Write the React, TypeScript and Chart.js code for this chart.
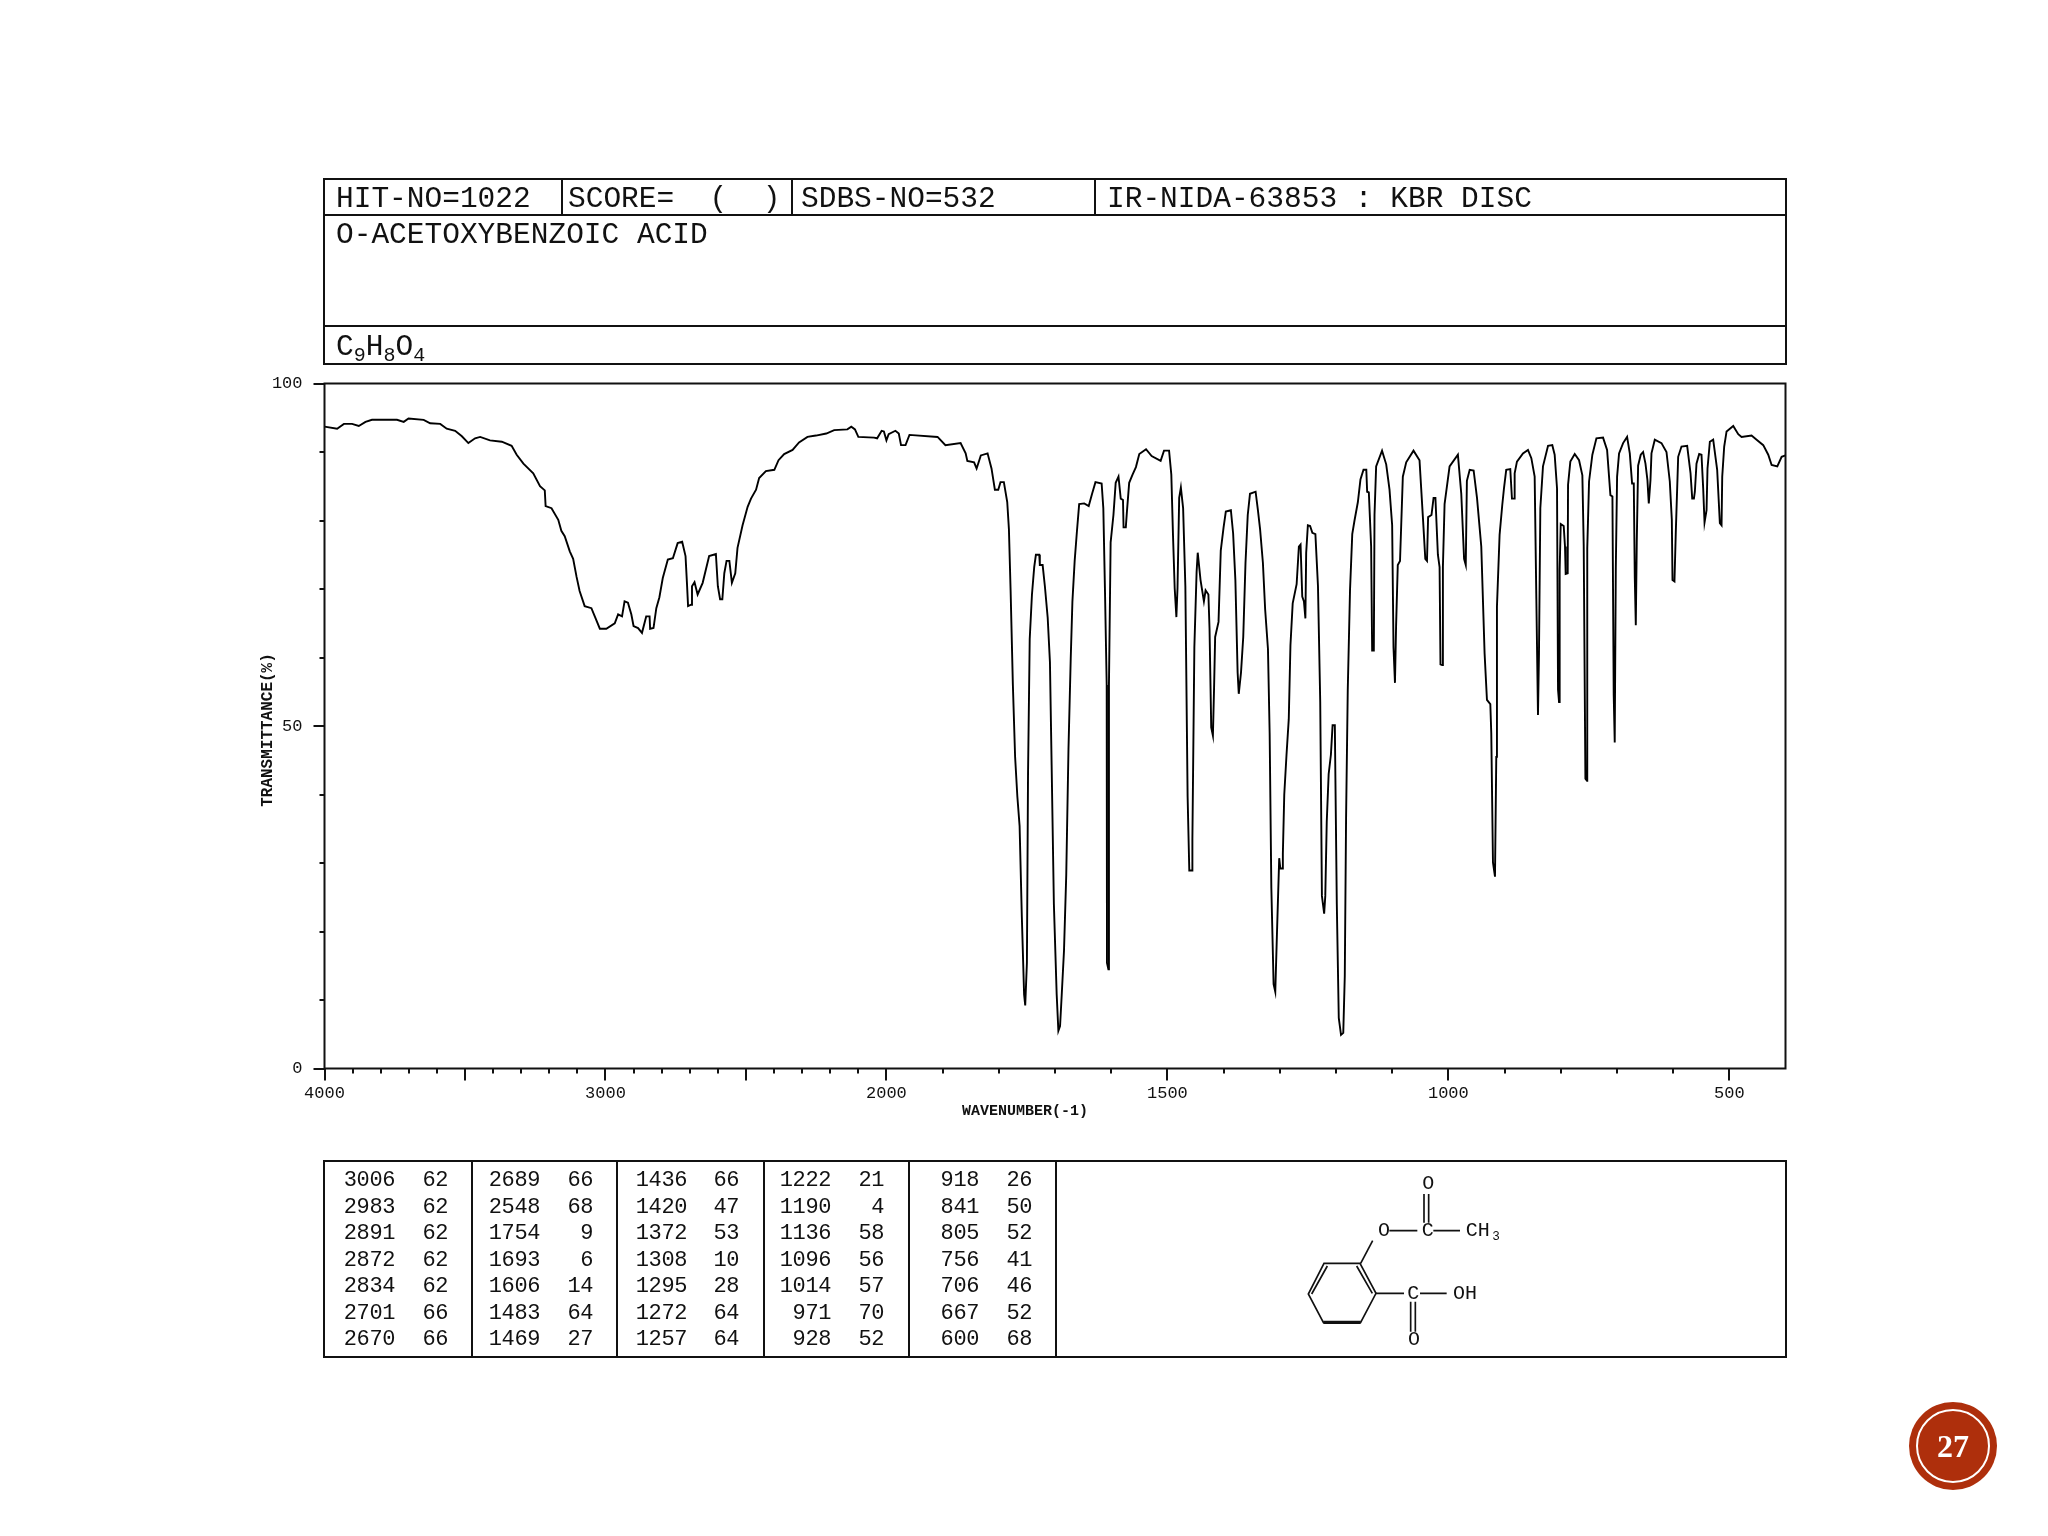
import React, { useEffect, useRef } from "react";
import { Chart, registerables } from "chart.js";

Chart.register(...registerables);

const wavenumbers = [
  4000,3955,3931,3902,3878,3854,3831,3742,3718,3701,3647,3624,3588,3565,3535,3511,3488,3464,3446,3411,3369,3334,3316,3292,3257,3233,3216,3213,3192,3168,3157,3145,3127,3115,3103,3092,3074,3050,3038,3020,2997,2967,2955,2941,2932,2920,2908,2900,2884,2870,2855,2843,2841,2829,2819,2808,2796,2778,2760,2743,2727,2715,2710,2706,2695,2692,2683,2672,2654,2631,2607,2600,2592,2584,2577,2569,2559,2550,2538,2530,2512,2494,2482,2464,2453,2429,2399,2384,2364,2334,2311,2281,2251,2214,2186,2139,2125,2112,2100,2044,2033,2017,2009,2000,
  1996,1984,1978,1974,1966,1959,1909,1895,1868,1859,1856,1844,1839.5,1832,1820,1813,1807,1801,1797,1791,1785,1782,1779,1775,1771,1767,1763,1759,1755,1753,1750,1748,1745,1741,1737,1734,1728,1727,1722,1718,1713,1709,1706,1702,1697,1694,1691,1688,1684,1680,1676,1672,1669,1665,1661,1657,1648,1640,1634,1628,1617,1614,1611,1608,1607.5,1605,1604,1601,1596,1592,1587,1583,1579,1578,1574,1572,1568,1562,1556,1550,1538,1528,1512,1506,1497,1493,1490,1487,1484,1482,1479,1476,1472,1468,1464,1461,1456,1455.5,1452,1448,1446,1441,1435,1432,1427,1425,1422,1419,1417,1415,1409,1405,1400,1396,1387,1383,1379,1375,1373,
  1369,1365,1361,1357,1353,1343,1339,1335,1330,1326,1321,1318,1315,1311,1308,1305,1301,1299,1295,1294.5,1292,1288,1284,1281,1277,1270,1266,1263,1260,1257,1254.4,1253,1250,1246,1242,1236.6,1232,1228,1225,1221,1219,1216.4,1213,1209,1206,1202,1201,1198.5,1195,1191,1187,1184.3,1182,1179,1175,1171,1167,1161,1156.4,1151,1146,1144.5,1141.5,1137.4,1135.6,1132.6,1131.4,1128.5,1118,1110.6,1104.7,1100,1097.6,1095,1093,1090,1086,1081,1075,1062,1051.3,1045.3,1041,1038,1036,1030,1026.3,1023,1018.6,1015.6,1014,1011,1009.7,1006.7,997.8,983,977,972,969,967,962,955,949,941.4,935.5,931.3,925.3,923.6,920.6,917,
  914.7,913.5,908.8,904,901,897,889.8,886.8,882.6,882,877.9,867.2,858.3,852.3,846.4,843.4,840.5,838.7,836.3,831.6,822.6,815,810.8,806.6,804.8,803,801.9,800,794.7,792.4,791.2,787.6,787,782.9,775.1,767.4,761.5,759.1,756.1,753.2,752.8,749.6,743.7,736.5,724.7,717.5,711.6,708,705.7,703.9,702,699.7,696.2,689,681.9,677.1,673,670,668.2,666.4,664.7,662.3,657.6,653.4,649.2,645.7,643.3,640.3,638.5,632.6,620.7,611.8,605.9,602.3,601.1,597.6,595.2,591,585.1,575,569,566,563,561.3,558.4,553.6,549.5,546.5,544.1,540.5,538.8,534.6,528.7,521.6,516.8,513.8,512.6,509.1,504.9,493,484.1,478.2,460.4,451.4,439.6,430.7,424.7,414.6,406.9,400,
];

const transmittance = [
  93.7,93.4,94.1,94.1,93.8,94.4,94.7,94.7,94.4,94.9,94.7,94.2,94.1,93.4,93.1,92.3,91.3,92.0,92.2,91.7,91.5,90.9,89.6,88.3,86.9,85,84.4,82.1,81.8,80.1,78.5,77.7,75.5,74.4,71.8,69.7,67.5,67.2,66.0,64.2,64.2,65,66.3,66,68.2,68,66.3,64.6,64.3,63.6,66,66,64.2,64.3,67.2,68.8,71.6,74.3,74.5,76.7,76.9,74.8,70.9,67.5,67.7,70.4,71,69.2,70.9,74.8,75.1,70.4,68.5,68.5,72.3,74.1,74.1,70.9,72.3,76,79.3,82,83.2,84.5,86.2,87.2,87.4,88.8,89.7,90.3,91.4,92.2,92.4,92.7,93.2,93.3,93.7,93.3,92.2,92.1,92,93.1,93,91.7,
  92.6,93.1,92.7,91,91,92.5,92.2,91,91.3,89.8,88.7,88.5,87.6,89.5,89.8,87.6,84.5,84.5,85.6,85.6,82.7,78.7,69.8,56.1,45.5,39.7,35.4,22.1,10.8,9.2,15.4,43,62.7,69.2,73.2,75,75,73.5,73.5,70.4,65.8,59.3,44.3,24,10.8,5.5,6.2,10.8,17.2,28.2,46.7,59.9,68.2,74.1,78.4,82.4,82.5,82.1,83.9,85.6,85.4,81.8,69.5,56,15.4,14.5,56,76.8,80.8,85.5,86.4,83.2,83,79,79,81.3,85.5,86.7,87.8,89.7,90.4,89.4,88.7,90.2,90.2,86.7,77.8,70.1,65.9,70.1,83.3,84.8,81.8,70.4,39.7,28.9,28.9,33.5,61.5,72.5,75.3,71.3,68.2,69.8,69.2,64.2,49.8,48.6,55.3,63,65.2,75.6,79,81.3,81.5,78.1,71.3,57.8,54.7,
  57.8,63,73.8,80.8,83.9,84.2,81.6,78.7,73.8,67,61.2,48.9,26.4,12.3,11.2,19.7,30.7,29.2,29.2,31.4,40,45.8,51,61.8,67.9,70.7,76.2,76.5,68.9,68.2,65.7,75.3,79.3,79.2,78.2,78,70.4,53.5,25.2,22.6,25.2,36,43,45.8,50.1,50.1,42.4,24,7.4,4.9,5.2,13.5,36.6,55.3,69.8,78,80,82.7,86,87.4,87.4,84.2,84.1,76.2,61,61,80.8,87.9,90.2,88.2,84.5,79.3,61.5,56.3,64.6,73.5,74.1,86.4,88.5,90.2,88.8,80.5,74.4,74.1,80.5,80.8,83.3,83.3,75,73.2,59,58.9,73.2,82.4,87.9,89.6,83.9,74.4,73.5,85.8,87.4,87.3,83.3,76.2,60.6,53.8,53.2,48.9,30.1,28,
  45.5,67.4,77.9,82.3,84.7,87.4,87.5,83.2,83.2,86.9,88.6,89.8,90.3,89.1,86.4,68.6,51.6,60.6,81.8,87.9,90.9,91,89.6,84.7,55.3,53.5,72.8,79.5,79.2,76.2,72.2,72.3,85.2,88.6,89.7,88.8,86.6,76.4,42.3,42,75.9,85.7,89.6,92,92.1,90.3,83.7,83.5,54.5,47.6,73,86.4,89.8,91.3,92.2,89.8,85.4,85.4,71.6,64.7,76.7,88,89.6,90,88.3,85.9,82.5,85.9,89.8,91.8,91.3,90,85.7,80.1,71.3,71.1,78.4,89.3,90.8,90.9,86.9,83.2,83.2,84.2,88.3,89.7,89.6,84.7,79.7,81.5,87.6,91.5,91.8,87.4,79.6,79.3,86.4,90.8,93,93.8,92.6,92.2,92.4,91.8,91,89.6,88.1,87.9,89.3,89.5,
];

const xTickValues = [4000,3900,3800,3700,3600,3500,3400,3300,3200,3100,3000,2900,2800,2700,2600,2500,2400,2300,2200,2100,2000,1900,1800,1700,1600,1500,1400,1300,1200,1100,1000,900,800,700,600,500];
const xMajorTicks = [4000,3500,3000,2500,2000,1500,1000,500];
const xLabels = [4000,3000,2000,1500,1000,500];
const yLabels = [0,50,100];
const xTitle = "WAVENUMBER(-1)";
const yTitle = "TRANSMITTANCE(%)";

const peakWavenumbers = [
  [3006,2983,2891,2872,2834,2701,2670],
  [2689,2548,1754,1693,1606,1483,1469],
  [1436,1420,1372,1308,1295,1272,1257],
  [1222,1190,1136,1096,1014,971,928],
  [918,841,805,756,706,667,600],
];
const peakValues = [
  [62,62,62,62,62,66,66],
  [66,68,9,6,14,64,27],
  [66,47,53,10,28,64,64],
  [21,4,58,56,57,70,52],
  [26,50,52,41,46,52,68],
];
const peakNumberRight = [395, 540, 687, 831, 979];
const peakValueRight = [448, 593, 739, 884, 1032];
const peakDividers = [471, 616, 763, 908, 1055];

// Infrared charts double their horizontal scale below 2000 cm-1.
const axisPos = (w: number) => (w >= 2000 ? (4000 - w) / 2 : 1000 + (2000 - w));

const MONO = '"Liberation Mono", monospace';

const decorPlugin = {
  id: "spectrumDecor",
  afterDraw(chart: any) {
    const { ctx, chartArea: a, scales } = chart;
    ctx.save();
    ctx.strokeStyle = "#111";
    ctx.lineWidth = 2;
    ctx.strokeRect(a.left, a.top, a.right - a.left, a.bottom - a.top);
    ctx.beginPath();
    for (const w of xTickValues) {
      const x = Math.round(scales.x.getPixelForValue(axisPos(w)));
      ctx.moveTo(x, a.bottom);
      ctx.lineTo(x, a.bottom + (xMajorTicks.includes(w) ? 12 : 5));
    }
    for (let t = 0; t <= 100; t += 10) {
      const y = Math.round(scales.y.getPixelForValue(t));
      ctx.moveTo(a.left, y);
      ctx.lineTo(a.left - (yLabels.includes(t) ? 11 : 5), y);
    }
    ctx.stroke();
    ctx.fillStyle = "#111";
    ctx.textAlign = "center";
    ctx.textBaseline = "middle";
    ctx.font = `bold 15px ${MONO}`;
    ctx.fillText(xTitle, 1025, 1111);
    ctx.translate(268, 730);
    ctx.rotate(-Math.PI / 2);
    ctx.font = `bold 16px ${MONO}`;
    ctx.fillText(yTitle, 0, 0);
    ctx.restore();
  },
};

function SpectrumChart() {
  const ref = useRef<HTMLCanvasElement>(null);
  useEffect(() => {
    const chart = new Chart(ref.current!, {
      type: "line",
      data: {
        datasets: [
          {
            label: "Transmittance",
            data: wavenumbers.map((w, i) => ({ x: axisPos(w), y: transmittance[i] })),
            borderColor: "#000",
            borderWidth: 1.9,
            pointRadius: 0,
            tension: 0,
            fill: false,
          },
        ],
      },
      options: {
        animation: false,
        responsive: false,
        layout: { padding: { left: 0, top: 383.5, right: 262.5, bottom: 1536 - 1068.5 - 60 } },
        plugins: { legend: { display: false }, tooltip: { enabled: false } },
        scales: {
          x: {
            type: "linear",
            min: 0,
            max: 2600,
            grid: { display: false },
            border: { display: false },
            afterFit(s: any) { s.height = 60; },
            afterBuildTicks(s: any) { s.ticks = xTickValues.map((w) => ({ value: axisPos(w) })); },
            ticks: {
              autoSkip: false,
              maxRotation: 0,
              padding: 7,
              color: "#111",
              font: { family: MONO, size: 17 },
              callback: (v: number) => {
                const w = xLabels.find((l) => axisPos(l) === v);
                return w === undefined ? "" : String(w);
              },
            },
          },
          y: {
            type: "linear",
            min: 0,
            max: 100,
            grid: { display: false },
            border: { display: false },
            afterFit(s: any) { s.width = 324.5; },
            ticks: {
              stepSize: 10,
              autoSkip: false,
              padding: 14,
              color: "#111",
              font: { family: MONO, size: 17 },
              callback: (v: number) => (yLabels.includes(v) ? String(v) : ""),
            },
          },
        },
      },
      plugins: [decorPlugin],
    } as any);
    return () => chart.destroy();
  }, []);
  return <canvas ref={ref} width={2048} height={1536} style={{ position: "absolute", left: 0, top: 0, width: 2048, height: 1536 }} />;
}

const line = (l: number, t: number, w: number, h: number) => (
  <div style={{ position: "absolute", left: l, top: t, width: w, height: h, background: "#111" }} />
);

function HeaderText({ x, base, children }: { x: number; base: number; children: React.ReactNode }) {
  return (
    <div style={{ position: "absolute", left: x, top: base - 24, fontFamily: MONO, fontSize: 29.5, lineHeight: "30px", color: "#111", whiteSpace: "pre" }}>
      {children}
    </div>
  );
}

function Molecule() {
  const txt = (x: number, y: number, s: string, sz = 60) => (
    <text x={x} y={y} fontFamily={MONO} fontSize={sz} textAnchor="middle" dominantBaseline="central" fill="#111">{s}</text>
  );
  return (
    <svg width={300} height={220} viewBox="0 0 900 660" style={{ position: "absolute", left: 1240, top: 1150 }}>
      <g stroke="#111" strokeWidth={5} fill="none">
        <path d="M252 340 L360 340 L408 430 L362 517 L250 517 L205 432 Z" />
        <path d="M262 348 L215 432 M350 348 L397 430" />
        <path d="M250 517 L362 517" strokeWidth={10} />
        <path d="M362 340 L398 272" />
        <path d="M448 242 L532 242 M580 242 L660 242 M552 218 L552 132 M566 218 L566 132" />
        <path d="M408 430 L492 430 M540 430 L620 430 M512 455 L512 545 M526 455 L526 545" />
      </g>
      {txt(432, 242, "O")}
      {txt(563, 242, "C")}
      {txt(565, 100, "O")}
      {txt(713, 242, "CH")}
      {txt(768, 258, "3", 38)}
      {txt(520, 430, "C")}
      {txt(675, 430, "OH")}
      {txt(522, 567, "O")}
    </svg>
  );
}

const subStyle = { fontSize: 20, verticalAlign: -6 };

export default function App() {
  return (
    <div style={{ position: "absolute", left: 0, top: 0, width: 2048, height: 1536, background: "#fff", overflow: "hidden" }}>
      <SpectrumChart />

      {/* header block */}
      <div style={{ position: "absolute", left: 323, top: 178, width: 1464, height: 187, border: "2px solid #111", boxSizing: "border-box" }} />
      {line(324, 214, 1462, 2)}
      {line(324, 325, 1462, 2)}
      {line(561, 179, 2, 35)}
      {line(791, 179, 2, 35)}
      {line(1094, 179, 2, 35)}
      <HeaderText x={336} base={208}>HIT-NO=1022</HeaderText>
      <HeaderText x={568} base={208}>SCORE=  (  )</HeaderText>
      <HeaderText x={801} base={208}>SDBS-NO=532</HeaderText>
      <HeaderText x={1107} base={208}>IR-NIDA-63853 : KBR DISC</HeaderText>
      <HeaderText x={336} base={244}>O-ACETOXYBENZOIC ACID</HeaderText>
      <HeaderText x={336} base={356}>
        C<span style={subStyle}>9</span>H<span style={subStyle}>8</span>O<span style={subStyle}>4</span>
      </HeaderText>

      {/* peak table */}
      <div style={{ position: "absolute", left: 323, top: 1160, width: 1464, height: 198, border: "2px solid #111", boxSizing: "border-box" }} />
      {peakDividers.map((x) => <React.Fragment key={x}>{line(x, 1161, 2, 196)}</React.Fragment>)}
      {peakWavenumbers.map((col, c) =>
        col.map((w, r) => (
          <React.Fragment key={`${c}-${r}`}>
            <div style={{ position: "absolute", left: peakNumberRight[c] - 60, width: 60, top: 1168 + r * 26.5, textAlign: "right", fontFamily: MONO, fontSize: 22, letterSpacing: -0.4, lineHeight: "26px", color: "#111" }}>{w}</div>
            <div style={{ position: "absolute", left: peakValueRight[c] - 40, width: 40, top: 1168 + r * 26.5, textAlign: "right", fontFamily: MONO, fontSize: 22, letterSpacing: -0.4, lineHeight: "26px", color: "#111" }}>{peakValues[c][r]}</div>
          </React.Fragment>
        )),
      )}
      <Molecule />

      {/* slide number badge */}
      <div style={{ position: "absolute", left: 1909, top: 1402, width: 88, height: 88, borderRadius: "50%", background: "radial-gradient(circle, #ae2f0c 0 80%, #bd4a2a 90%, #a8300f 100%)" }} />
      <div style={{ position: "absolute", left: 1916, top: 1409, width: 74, height: 74, boxSizing: "border-box", borderRadius: "50%", border: "2px solid #fff" }} />
      <div style={{ position: "absolute", left: 1909, top: 1402, width: 88, height: 88, lineHeight: "88px", textAlign: "center", color: "#fff", fontFamily: '"Liberation Serif", serif', fontWeight: 700, fontSize: 32 }}>27</div>
    </div>
  );
}
